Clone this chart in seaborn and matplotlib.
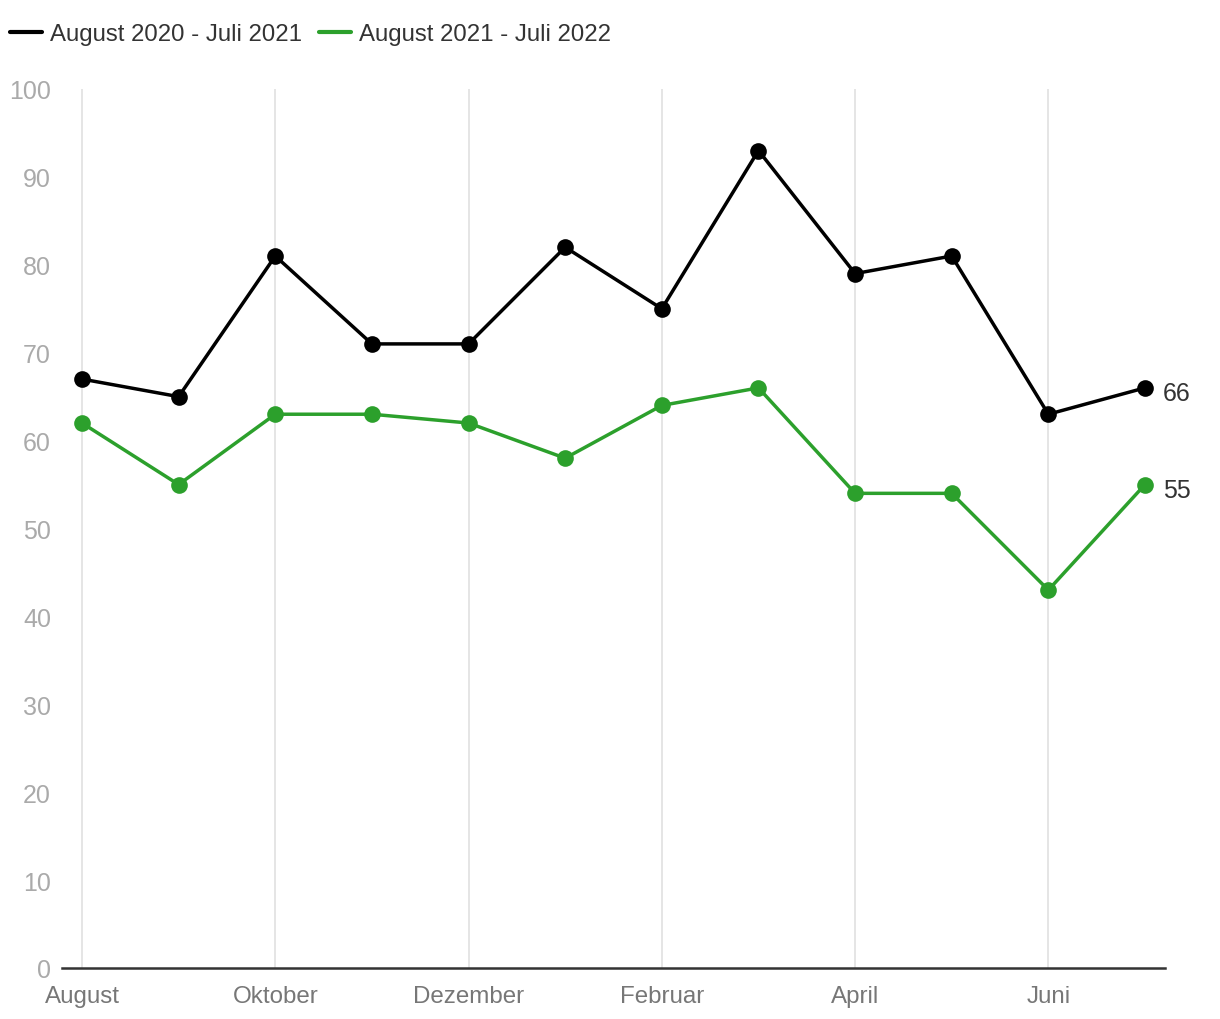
import matplotlib
matplotlib.use("Agg")
import matplotlib.pyplot as plt
import seaborn as sns
import pandas as pd

months = ["August", "September", "Oktober", "November", "Dezember", "Januar",
          "Februar", "März", "April", "Mai", "Juni", "Juli"]
tick_labels = ["August", "Oktober", "Dezember", "Februar", "April", "Juni"]
series_names = ["August 2020 - Juli 2021", "August 2021 - Juli 2022"]
values_2021 = [67, 65, 81, 71, 71, 82, 75, 93, 79, 81, 63, 66]
values_2022 = [62, 55, 63, 63, 62, 58, 64, 66, 54, 54, 43, 55]
colors = ["#000000", "#2ca02c"]

sns.set_theme(style="white")
plt.rcParams['font.family'] = ['Liberation Sans', 'DejaVu Sans']

df = pd.DataFrame({
    "idx": list(range(12)) * 2,
    "value": values_2021 + values_2022,
    "series": [series_names[0]] * 12 + [series_names[1]] * 12,
})

fig = plt.figure(figsize=(12.2, 10.2), dpi=100)
ax = fig.add_axes([62 / 1220, 1 - 969 / 1020, (1165 - 62) / 1220, (969 - 90) / 1020])

sns.lineplot(data=df, x="idx", y="value", hue="series", palette=colors,
             marker="o", markersize=12, markeredgewidth=0, linewidth=2.5,
             ax=ax, legend=True)

ax.set_xlim(-0.207, 11.207)
ax.set_ylim(0, 100)
ax.set_xlabel("")
ax.set_ylabel("")

tick_pos = [months.index(m) for m in tick_labels]
ax.set_xticks(tick_pos)
ax.set_xticklabels(tick_labels, fontsize=17.4, color="#777777")
ax.set_yticks(range(0, 101, 10))
ax.tick_params(axis="y", labelsize=18, labelcolor="#aaaaaa", length=0, pad=8)
ax.tick_params(axis="x", length=0, pad=12)
for t in ax.get_yticklabels():
    t.set_horizontalalignment("right")

ax.grid(axis="x", color="#e3e3e3", linewidth=1.3)
ax.grid(axis="y", visible=False)
for s in ["top", "right", "left"]:
    ax.spines[s].set_visible(False)
ax.spines["bottom"].set_color("#333333")
ax.spines["bottom"].set_linewidth(1.8)
ax.set_axisbelow(True)

# end labels
for vals in [values_2021, values_2022]:
    ax.annotate(str(vals[-1]), xy=(11, vals[-1]), xytext=(13, -4),
                textcoords="offset points", va="center", ha="left",
                fontsize=18, color="#333333")

handles, labels = ax.get_legend_handles_labels()
leg = ax.legend(handles, labels, loc="upper left", bbox_to_anchor=(-52 / 1103, 1 + 66 / 879),
                ncol=2, frameon=False, fontsize=17.3, handlelength=1.33,
                handletextpad=0.33, columnspacing=0.7, borderaxespad=0,
                borderpad=0)
for h in leg.legend_handles:
    h.set_marker("")
    h.set_linewidth(3)
for t in leg.get_texts():
    t.set_color("#333333")

fig.savefig("out.png", dpi=100)
